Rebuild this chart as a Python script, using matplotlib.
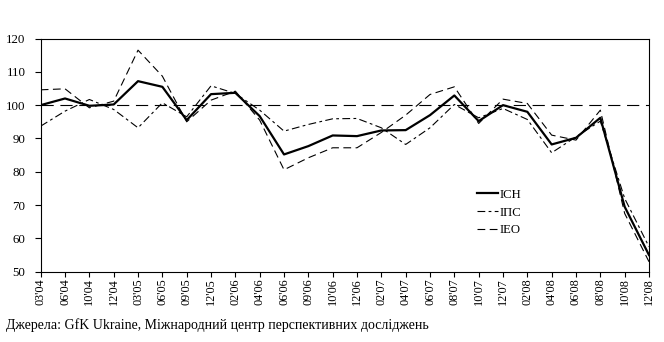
import matplotlib
matplotlib.use("Agg")
import matplotlib.pyplot as plt

plt.rcParams['font.family'] = ['Liberation Serif', 'DejaVu Serif']

months = ["03'04", "06'04", "10'04", "12'04", "03'05", "06'05", "09'05", "12'05",
          "02'06", "04'06", "06'06", "09'06", "10'06", "12'06", "02'07", "04'07",
          "06'07", "08'07", "10'07", "12'07", "02'08", "04'08", "06'08", "08'08",
          "10'08", "12'08"]
ich = [100.0, 102.0, 99.8, 100.2, 107.2, 105.5, 95.5, 103.3, 103.7, 96.7, 85.2, 87.7,
       90.9, 90.7, 92.4, 92.5, 97.0, 102.9, 95.2, 100.0, 98.0, 88.2, 90.2, 96.2,
       69.5, 55.0]
ips = [93.7, 98.2, 101.7, 98.7, 93.2, 100.7, 96.5, 105.8, 103.5, 98.5, 92.2, 94.2,
       95.9, 96.0, 93.2, 88.2, 93.2, 100.2, 96.2, 99.0, 95.7, 85.7, 90.5, 95.2,
       72.0, 57.5]
ieo = [104.6, 104.9, 99.2, 101.2, 116.5, 108.7, 95.0, 101.5, 104.2, 95.5, 80.6, 84.2,
       87.2, 87.2, 91.8, 97.0, 103.2, 105.5, 94.5, 101.8, 100.5, 91.0, 89.5, 98.5,
       67.5, 53.0]
series_names = ["ICH", "IПС", "IEO"]
y_ticks = [50, 60, 70, 80, 90, 100, 110, 120]
ref_level = 100
source = "Джерела: GfK Ukraine, Міжнародний центр перспективних досліджень"

fig = plt.figure(figsize=(6.64, 3.42), dpi=100)
ax = fig.add_axes([0.0613, 0.2055, 0.9161, 0.6819])

x = list(range(len(months)))
ax.axhline(ref_level, color='black', lw=0.8, dashes=(11, 6))
ax.plot(x, ieo, color='black', lw=0.8, dashes=(7, 4), label=series_names[2], zorder=3)
ax.plot(x, ips, color='black', lw=0.8, dashes=(7, 3, 2.5, 3), label=series_names[1], zorder=3)
ax.plot(x, ich, color='black', lw=1.6, label=series_names[0], zorder=4)

ax.set_xlim(0, len(months) - 1)
ax.set_ylim(50, 120)
ax.set_yticks(y_ticks)
ax.set_xticks(x)
ax.set_xticklabels(months, rotation=90, fontsize=8.8)
ax.tick_params(axis='y', labelsize=9.3, direction='out', length=4, width=0.8, pad=7)
ax.tick_params(axis='x', direction='out', length=3.5, width=0.8, pad=1)
for s in ax.spines.values():
    s.set_linewidth(0.8)

handles, labels = ax.get_legend_handles_labels()
order = [2, 1, 0]
leg = ax.legend([handles[i] for i in order], [labels[i] for i in order],
                loc='upper left', bbox_to_anchor=(0.718, 0.355), frameon=False,
                fontsize=9.2, handlelength=1.6, handletextpad=0.15,
                labelspacing=0.45, borderaxespad=0, borderpad=0)

fig.text(0.009, 0.03, source, fontsize=10, ha='left', va='bottom')

fig.savefig("out.png", dpi=100)
